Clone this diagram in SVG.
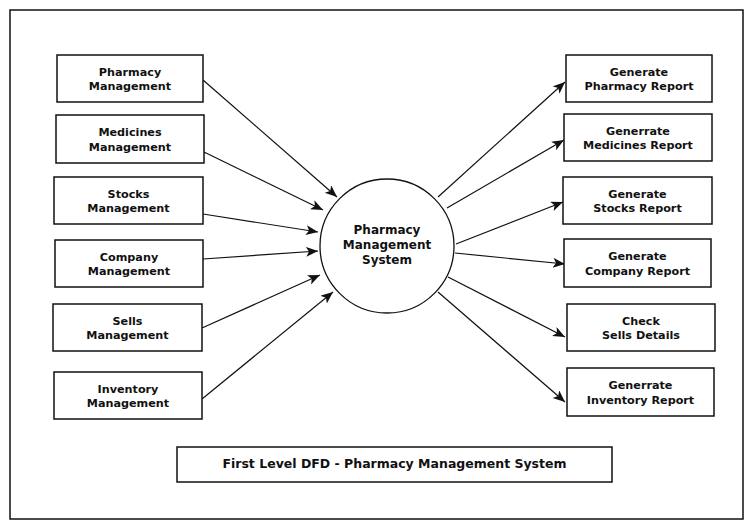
<svg xmlns="http://www.w3.org/2000/svg" width="750" height="528" viewBox="0 0 750 528">
<defs>
<style>
.box{fill:#fff;stroke:#111;stroke-width:1.5}
.lbl{font-family:"DejaVu Sans",sans-serif;font-weight:bold;font-size:11.2px;fill:#111;text-anchor:middle}
.big{font-size:12px}
.ttl{font-size:12.5px}
.flow{stroke:#111;stroke-width:1.2;fill:none;marker-end:url(#arr)}
</style>
<marker id="arr" markerUnits="userSpaceOnUse" markerWidth="13" markerHeight="11" refX="12" refY="5" orient="auto">
<path d="M0,0 L12,5 L0,10 L3,5 z" fill="#111"/>
</marker>
</defs>
<rect width="750" height="528" fill="#fff"/>
<rect x="10" y="10" width="733" height="509" fill="none" stroke="#111" stroke-width="1.5"/>
<g id="connectors">
<line class="flow" x1="203" y1="80" x2="337" y2="197"/>
<line class="flow" x1="204" y1="152" x2="323" y2="210"/>
<line class="flow" x1="203" y1="214" x2="318" y2="232"/>
<line class="flow" x1="203" y1="259" x2="318" y2="251"/>
<line class="flow" x1="202" y1="328" x2="320" y2="275"/>
<line class="flow" x1="202" y1="399" x2="333" y2="292"/>
<line class="flow" x1="438" y1="197" x2="565" y2="82"/>
<line class="flow" x1="447" y1="208" x2="564" y2="140"/>
<line class="flow" x1="456" y1="244" x2="563" y2="202"/>
<line class="flow" x1="455" y1="253" x2="565" y2="264"/>
<line class="flow" x1="448" y1="277" x2="565" y2="337"/>
<line class="flow" x1="438" y1="292" x2="565" y2="402"/>
</g>
<g id="center">
<circle cx="387" cy="246" r="67" fill="#fff" stroke="#111" stroke-width="1.3"/>
<text class="lbl big" x="387" y="234">Pharmacy</text>
<text class="lbl big" x="387" y="249">Management</text>
<text class="lbl big" x="387" y="264">System</text>
</g>
<g id="n1"><rect class="box" x="57" y="55" width="146" height="47"/><text class="lbl" x="130" y="76">Pharmacy</text><text class="lbl" x="130" y="90">Management</text></g>
<g id="n2"><rect class="box" x="56" y="115" width="148" height="48"/><text class="lbl" x="130" y="136">Medicines</text><text class="lbl" x="130" y="151">Management</text></g>
<g id="n3"><rect class="box" x="54" y="177" width="149" height="47"/><text class="lbl" x="128.5" y="198">Stocks</text><text class="lbl" x="128.5" y="212">Management</text></g>
<g id="n4"><rect class="box" x="55" y="240" width="148" height="47"/><text class="lbl" x="129" y="261">Company</text><text class="lbl" x="129" y="275">Management</text></g>
<g id="n5"><rect class="box" x="53" y="304" width="149" height="47"/><text class="lbl" x="127.5" y="325">Sells</text><text class="lbl" x="127.5" y="339">Management</text></g>
<g id="n6"><rect class="box" x="54" y="372" width="148" height="47"/><text class="lbl" x="128" y="393">Inventory</text><text class="lbl" x="128" y="407">Management</text></g>
<g id="r1"><rect class="box" x="566" y="55" width="146" height="47"/><text class="lbl" x="639" y="76">Generate</text><text class="lbl" x="639" y="90">Pharmacy Report</text></g>
<g id="r2"><rect class="box" x="564" y="114" width="148" height="47"/><text class="lbl" x="638" y="135">Generrate</text><text class="lbl" x="638" y="149">Medicines Report</text></g>
<g id="r3"><rect class="box" x="563" y="177" width="149" height="47"/><text class="lbl" x="637.5" y="198">Generate</text><text class="lbl" x="637.5" y="212">Stocks Report</text></g>
<g id="r4"><rect class="box" x="564" y="239" width="147" height="48"/><text class="lbl" x="637.5" y="260">Generate</text><text class="lbl" x="637.5" y="275">Company Report</text></g>
<g id="r5"><rect class="box" x="567" y="304" width="148" height="47"/><text class="lbl" x="641" y="325">Check</text><text class="lbl" x="641" y="339">Sells Details</text></g>
<g id="r6"><rect class="box" x="567" y="368" width="147" height="48"/><text class="lbl" x="640.5" y="389">Generrate</text><text class="lbl" x="640.5" y="404">Inventory Report</text></g>
<g id="title"><rect class="box" x="177" y="447" width="435" height="35"/><text class="lbl ttl" x="394.5" y="468">First Level DFD - Pharmacy Management System</text></g>
</svg>
